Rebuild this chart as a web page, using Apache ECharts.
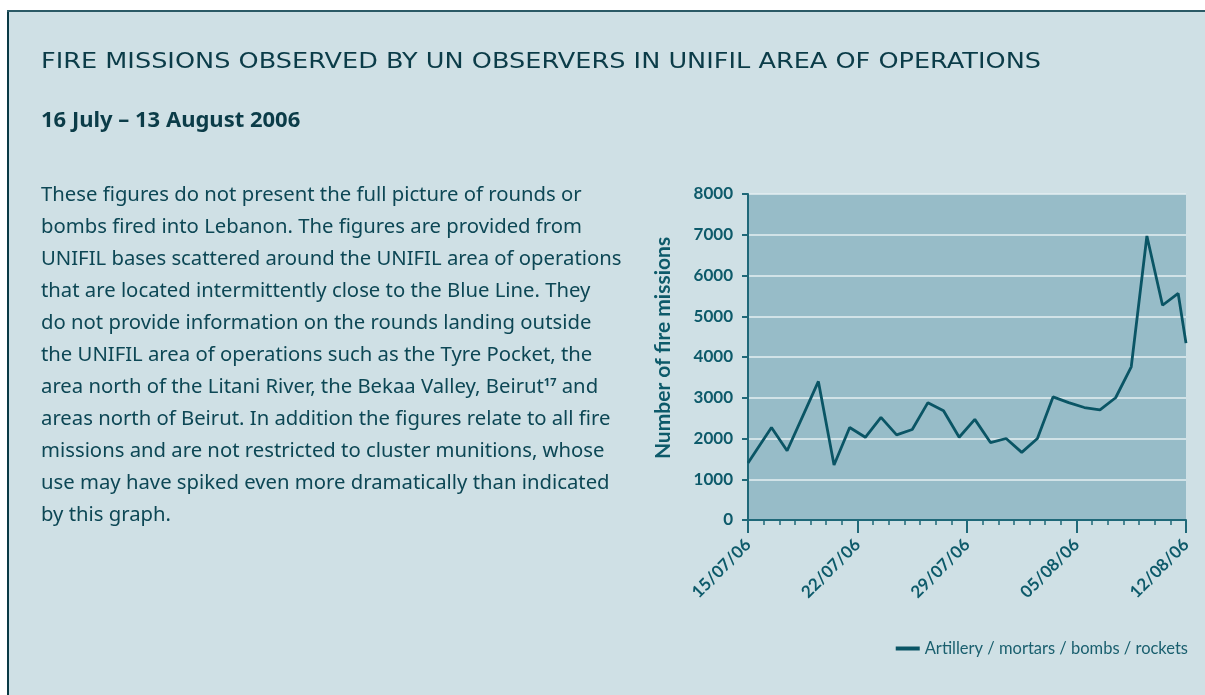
<!DOCTYPE html>
<html>
<head>
<meta charset="utf-8">
<script src="https://cdn.jsdelivr.net/npm/echarts@6/dist/echarts.min.js"></script>
<style>
  html, body { margin: 0; padding: 0; background: #ffffff; }
  #chart { width: 1205px; height: 695px; }
</style>
</head>
<body>
<div id="chart"></div>
<script>
// ---- data ----
const titleText = 'FIRE MISSIONS OBSERVED BY UN OBSERVERS IN UNIFIL AREA OF OPERATIONS';
const subtitleText = '16 July \u2013 13 August 2006';
const paragraphLines = [
  'These figures do not present the full picture of rounds or',
  'bombs fired into Lebanon. The figures are provided from',
  'UNIFIL bases scattered around the UNIFIL area of operations',
  'that are located intermittently close to the Blue Line. They',
  'do not provide information on the rounds landing outside',
  'the UNIFIL area of operations such as the Tyre Pocket, the',
  'area north of the Litani River, the Bekaa Valley, Beirut{sup|17} and',
  'areas north of Beirut. In addition the figures relate to all fire',
  'missions and are not restricted to cluster munitions, whose',
  'use may have spiked even more dramatically than indicated',
  'by this graph.'
];
const xTickLabels = ['15/07/06', '22/07/06', '29/07/06', '05/08/06', '12/08/06'];
// days since 15/07/06
const dayOffsets = [0, 1.5, 2.5, 3.5, 4.5, 5.5, 6.5, 7.5, 8.5, 9.5, 10.5, 11.5, 12.5, 13.5, 14.5,
  15.5, 16.5, 17.5, 18.5, 19.5, 20.5, 21.5, 22.5, 23.5, 24.5, 25.5, 26.5, 27.5, 28];
const fireMissions = [1400, 2270, 1700, 2550, 3400, 1350, 2270, 2030, 2520, 2090, 2220, 2880, 2680, 2030, 2470,
  1900, 2000, 1660, 2000, 3020, 2880, 2760, 2700, 3000, 3760, 6970, 5270, 5560, 4340];
const seriesName = 'Artillery / mortars / bombs / rockets';
const yAxisName = 'Number of fire missions';

// ---- chart ----
const TEXT = '#0d4755';
const TEAL = '#0d5a6a';
const chart = echarts.init(document.getElementById('chart'), null, { renderer: 'canvas' });

// text fitting helpers (layout only)
const mctx = document.createElement('canvas').getContext('2d');
function measure(font, s) { mctx.font = font; return mctx.measureText(s).width; }

const TITLE_FONT = '22px "DejaVu Sans"';
const titleScaleX = 1000 / measure(TITLE_FONT, titleText);

const paraSize = Math.round(20 * 541 / measure('20px "Noto Sans"', paragraphLines[0]) * 10) / 10;
const subSize = Math.round(20 * 259 / measure('bold 20px "Noto Sans"', subtitleText) * 10) / 10;

const paraGraphics = paragraphLines.map((line, i) => ({
  type: 'text',
  left: 41,
  top: 185 + i * 32,
  silent: true,
  style: {
    text: line,
    fill: TEXT,
    font: paraSize + 'px "Noto Sans"',
    rich: {
      sup: { fontSize: 11, fontWeight: 'bold', fill: TEXT, verticalAlign: 'top', lineHeight: 11, fontFamily: 'Noto Sans' }
    }
  }
}));

const option = {
  backgroundColor: '#ffffff',
  animation: false,
  graphic: [
    {
      type: 'rect',
      shape: { x: 8, y: 10, width: 1220, height: 700 },
      style: { fill: '#cfe0e5', stroke: 'none' },
      z: -10, silent: true
    },
    { type: 'rect', shape: { x: 7, y: 10, width: 2, height: 700 }, style: { fill: '#0a3a45' }, z: -9, silent: true },
    { type: 'rect', shape: { x: 7, y: 10, width: 1220, height: 2 }, style: { fill: '#2b5a66' }, z: -9, silent: true },
    {
      type: 'text', left: 41, top: 51, silent: true,
      scaleX: titleScaleX,
      style: { text: titleText, fill: '#0b3c48', font: TITLE_FONT }
    },
    {
      type: 'text', left: 41, top: 110, silent: true,
      style: { text: subtitleText, fill: '#0b3c48', font: 'bold ' + subSize + 'px "Noto Sans"' }
    },
    ...paraGraphics
  ],
  legend: {
    right: 12,
    top: 635,
    itemWidth: 24,
    itemHeight: 4,
    itemGap: 8,
    icon: 'rect',
    textStyle: { color: '#1a5f6e', fontSize: 16.5, fontFamily: 'Lato' },
    data: [seriesName]
  },
  grid: {
    left: 748, right: 19, top: 194, bottom: 175,
    show: true, backgroundColor: '#97bcc8', borderWidth: 0
  },
  xAxis: {
    type: 'value',
    min: 0, max: 28, interval: 7,
    axisLine: { show: true, onZero: false, lineStyle: { color: '#1f6878', width: 2 } },
    axisTick: { show: true, length: 13, lineStyle: { color: '#1f6878', width: 2 } },
    minorTick: { show: true, splitNumber: 7, length: 5, lineStyle: { color: '#1f6878', width: 1.5 } },
    splitLine: { show: false },
    axisLabel: {
      rotate: 45,
      margin: 22,
      color: TEAL,
      fontWeight: 'bold',
      fontSize: 17,
      fontFamily: 'Lato',
      formatter: v => xTickLabels[Math.round(v / 7)]
    }
  },
  yAxis: {
    type: 'value',
    min: 0, max: 8000, interval: 1000,
    name: yAxisName,
    nameLocation: 'middle',
    nameGap: 74,
    nameTextStyle: { color: TEAL, fontWeight: 'bold', fontSize: 21, fontFamily: 'Lato', padding: [0, 0, 0, 18] },
    axisLine: { show: true, lineStyle: { color: '#1f6878', width: 2 } },
    axisTick: { show: true, length: 6, lineStyle: { color: '#1f6878', width: 2 } },
    splitLine: { show: true, lineStyle: { color: '#e4eff2', width: 1.5 } },
    axisLabel: {
      color: TEAL, fontWeight: 'bold', fontSize: 17, fontFamily: 'Lato', margin: 15,
      formatter: v => String(v)
    }
  },
  series: [{
    name: seriesName,
    type: 'line',
    data: dayOffsets.map((d, i) => [d, fireMissions[i]]),
    symbol: 'none',
    clip: true,
    lineStyle: { color: '#0a5565', width: 2.8 },
    itemStyle: { color: '#0a5565' }
  }]
};
chart.setOption(option);
</script>
</body>
</html>
